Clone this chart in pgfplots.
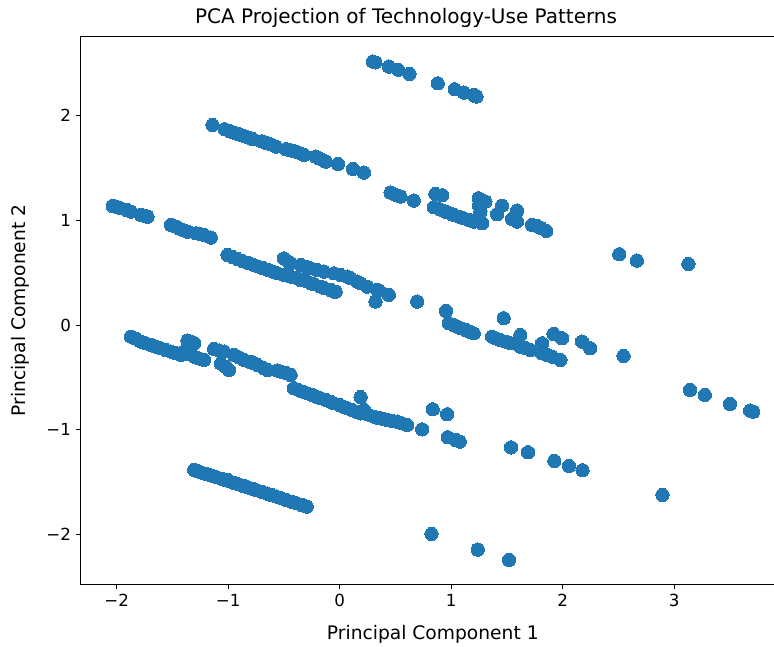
\documentclass[border=0pt]{standalone}
\usepackage{pgfplots}
\pgfplotsset{compat=1.18}
\usepackage{fontspec}
\setmainfont{DejaVu Sans}
\definecolor{mplblue}{HTML}{1F77B4}
\pgfplotstableread{
x y
0.298 2.517
0.320 2.510
0.441 2.470
0.525 2.440
0.627 2.400
0.880 2.310
1.032 2.253
1.113 2.221
1.202 2.199
1.227 2.183
-1.140 1.912
-1.030 1.871
-0.990 1.855
-0.961 1.842
-0.930 1.832
-0.901 1.823
-0.870 1.810
-0.842 1.800
-0.810 1.790
-0.782 1.778
-0.700 1.755
-0.677 1.747
-0.650 1.737
-0.618 1.727
-0.573 1.705
-0.480 1.680
-0.454 1.673
-0.420 1.665
-0.394 1.657
-0.350 1.640
-0.320 1.625
-0.215 1.609
-0.180 1.590
-0.140 1.570
-0.125 1.561
-0.015 1.539
0.119 1.491
0.218 1.456
0.457 1.265
0.500 1.245
0.546 1.227
0.665 1.189
0.859 1.252
0.919 1.240
0.844 1.125
0.900 1.105
0.949 1.083
1.000 1.062
1.023 1.052
1.070 1.035
1.113 1.020
1.160 1.003
1.202 0.988
1.278 0.972
1.247 1.211
1.270 1.195
1.307 1.179
1.262 1.083
1.250 1.140
1.456 1.140
1.412 1.058
1.591 1.093
1.546 1.012
1.591 0.988
1.725 0.956
1.770 0.945
1.800 0.930
1.853 0.900
2.507 0.676
2.665 0.615
3.127 0.583
-2.035 1.138
-1.990 1.125
-1.961 1.115
-1.910 1.098
-1.871 1.083
-1.782 1.052
-1.740 1.040
-1.722 1.035
-1.513 0.956
-1.470 0.940
-1.439 0.924
-1.400 0.905
-1.364 0.892
-1.289 0.876
-1.250 0.868
-1.215 0.860
-1.155 0.835
-1.005 0.669
-0.960 0.650
-0.916 0.630
-0.870 0.610
-0.826 0.595
-0.780 0.578
-0.737 0.560
-0.690 0.545
-0.647 0.528
-0.600 0.510
-0.558 0.494
-0.499 0.637
-0.454 0.600
-0.440 0.590
-0.349 0.574
-0.300 0.555
-0.260 0.542
-0.200 0.525
-0.141 0.510
-0.051 0.494
0.009 0.478
0.069 0.462
0.098 0.446
0.158 0.414
0.188 0.399
0.248 0.366
0.338 0.335
0.352 0.330
0.441 0.287
0.322 0.223
0.696 0.223
-0.500 0.478
-0.439 0.462
-0.379 0.450
-0.349 0.430
-0.300 0.420
-0.260 0.399
-0.230 0.390
-0.170 0.366
-0.141 0.355
-0.081 0.335
-0.051 0.318
-0.036 0.318
0.955 0.134
1.471 0.064
0.979 0.016
1.020 0.000
1.054 -0.016
1.090 -0.032
1.128 -0.048
1.165 -0.064
1.202 -0.080
1.367 -0.112
1.400 -0.128
1.441 -0.143
1.490 -0.160
1.531 -0.175
1.620 -0.096
1.620 -0.207
1.670 -0.222
1.710 -0.239
1.815 -0.175
1.815 -0.271
1.860 -0.287
1.904 -0.303
1.979 -0.335
1.919 -0.086
1.994 -0.127
2.173 -0.159
2.247 -0.223
2.546 -0.296
-1.871 -0.112
-1.830 -0.130
-1.782 -0.159
-1.740 -0.175
-1.692 -0.191
-1.650 -0.207
-1.603 -0.223
-1.560 -0.240
-1.513 -0.255
-1.470 -0.270
-1.423 -0.287
-1.364 -0.150
-1.320 -0.165
-1.304 -0.175
-1.394 -0.255
-1.350 -0.280
-1.304 -0.303
-1.260 -0.320
-1.215 -0.335
-1.125 -0.230
-1.080 -0.245
-1.036 -0.255
-1.065 -0.370
-1.020 -0.400
-0.991 -0.430
-0.946 -0.287
-0.900 -0.310
-0.857 -0.335
-0.800 -0.355
-0.767 -0.366
-0.737 -0.382
-0.678 -0.414
-0.647 -0.430
-0.558 -0.435
-0.528 -0.446
-0.480 -0.460
-0.439 -0.478
-0.409 -0.605
-0.370 -0.620
-0.330 -0.638
-0.289 -0.654
-0.250 -0.668
-0.210 -0.685
-0.170 -0.701
-0.120 -0.718
-0.080 -0.735
-0.051 -0.749
0.000 -0.765
0.030 -0.780
0.069 -0.797
0.110 -0.812
0.150 -0.830
0.188 -0.845
0.188 -0.690
0.218 -0.813
0.250 -0.855
0.307 -0.877
0.350 -0.890
0.390 -0.900
0.427 -0.908
0.470 -0.918
0.517 -0.924
0.560 -0.940
0.606 -0.956
0.740 -0.998
0.835 -0.806
0.964 -0.854
0.970 -1.074
1.039 -1.099
1.077 -1.115
1.537 -1.170
1.689 -1.217
1.925 -1.300
2.056 -1.348
2.178 -1.389
2.895 -1.625
3.142 -0.621
3.274 -0.669
3.500 -0.755
3.680 -0.819
3.709 -0.829
0.824 -1.998
1.238 -2.148
1.519 -2.247
-1.304 -1.386
-1.270 -1.398
-1.240 -1.410
-1.200 -1.422
-1.170 -1.432
-1.130 -1.446
-1.100 -1.456
-1.060 -1.470
-1.020 -1.484
-1.005 -1.480
-0.990 -1.494
-0.950 -1.508
-0.900 -1.525
-0.860 -1.540
-0.820 -1.553
-0.780 -1.567
-0.740 -1.581
-0.700 -1.595
-0.650 -1.612
-0.610 -1.626
-0.570 -1.640
-0.520 -1.658
-0.480 -1.672
-0.430 -1.690
-0.390 -1.704
-0.340 -1.721
-0.295 -1.737
}\pcadata
\begin{document}
\begin{tikzpicture}
\path[use as bounding box] (-60.5pt,-47pt) rectangle (520pt,438.2pt);
\clip (-60.5pt,-47pt) rectangle (520pt,438.2pt);
\begin{axis}[
  at={(0pt,0pt)}, anchor=south west,
  scale only axis, width=528.2pt, height=410.7pt,
  xmin=-2.322, xmax=3.993, ymin=-2.479, ymax=2.756,
  xtick={-2,-1,0,1,2,3}, xticklabels={−2,−1,0,1,2,3},
  ytick={-2,-1,0,1,2}, yticklabels={−2,−1,0,1,2},
  xtick pos=left, ytick pos=left,
  tick align=outside, major tick length=3.7pt,
  tick style={black, line width=0.6pt},
  axis line style={black, line width=0.6pt},
  tick label style={font=\fontsize{12.5}{14}\selectfont},
  label style={font=\fontsize{14}{16}\selectfont},
  xlabel={Principal Component 1},
  ylabel={Principal Component 2},
  xlabel style={yshift=-7pt},
  ylabel shift=6pt,
  title={PCA Projection of Technology-Use Patterns},
  title style={font=\fontsize{15}{17}\selectfont, at={(0.462,1)}, anchor=south, yshift=-2.5pt},
]
\addplot[only marks, mark=*, mark size=5pt, color=mplblue,
  mark options={fill=mplblue, draw=mplblue, line width=0pt}] table[x=x, y=y] {\pcadata};
\end{axis}
\end{tikzpicture}
\end{document}
